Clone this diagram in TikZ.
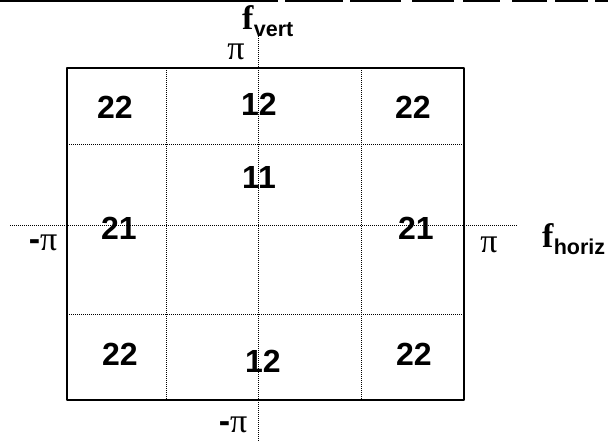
\documentclass[tikz,border=0pt]{standalone}
\usepackage{fontspec}
\setmainfont{Liberation Serif}
\setsansfont{Liberation Sans}
\usetikzlibrary{calc}
\newcommand{\subtxt}[1]{\raisebox{-7pt}{\sffamily\bfseries\fontsize{21.5}{21.5}\selectfont #1}}

\begin{document}
\begin{tikzpicture}[x=1pt, y=-1pt, line join=round,
    num/.style={font=\sffamily\bfseries\fontsize{32}{32}\selectfont, inner sep=0pt},
    lbl/.style={font=\fontsize{34}{34}\selectfont, inner sep=0pt},
    dots/.style={line width=0.9pt, dash pattern=on 1pt off 1pt}]
        % frame of the picture
        \useasboundingbox (0,0) rectangle (608,441);

        % broken rule along the top edge
        \foreach \a/\b in {0/278, 285/343, 350/401, 412/454, 463/500, 512/547, 555/588, 595/608}
            \draw[line width=2pt] (\a,1) -- (\b,1);

        % corners of the box
        \coordinate (A) at (67,400);
        \coordinate (B) at (464,400);
        \coordinate (C) at (464,68);
        \coordinate (D) at (67,68);

        % dotted grid inside the box
        \draw[dots] (166,68) -- (166,400);
        \draw[dots] (361,68) -- (361,400);
        \draw[dots] (67,144) -- (464,144);
        \draw[dots] (67,314) -- (464,314);

        % frequency axes
        \coordinate (vtop) at (258,36);
        \coordinate (vbot) at (258,441);
        \coordinate (hleft) at (10,225);
        \coordinate (hright) at (518,225);
        \draw[dots] (vtop) -- (vbot);
        \draw[dots] (hleft) -- (hright);

        % box outline
        \draw[line width=1.5pt] (A) -- (B) -- (C) -- (D) -- cycle;

        % axis labels
        \node[lbl, anchor=base west] (fv) at (242,30) {\textbf{f}\subtxt{vert}};
        \node[lbl, anchor=base west] (fh) at (542,247) {\textbf{f}\subtxt{horiz}};
        \node[lbl] (pitop) at (236,52) {π};
        \node[lbl] (piright) at (489,245) {π};
        \node[lbl] (pileft) at (43,243) {\textsf{\bfseries -}π};
        \node[lbl] (pibot) at (233,425) {\textsf{\bfseries -}π};

        % band numbers
        \node[num] (n22a) at (115,107) {22};
        \node[num] (n12a) at (259,104) {12};
        \node[num] (n22b) at (413,107) {22};
        \node[num] (n11) at (259,177) {11};
        \node[num] (n21a) at (119,228) {21};
        \node[num] (n21b) at (416,228) {21};
        \node[num] (n22c) at (120,354) {22};
        \node[num] (n12b) at (263,361) {12};
        \node[num] (n22d) at (414,354) {22};
    \end{tikzpicture}
\end{document}
